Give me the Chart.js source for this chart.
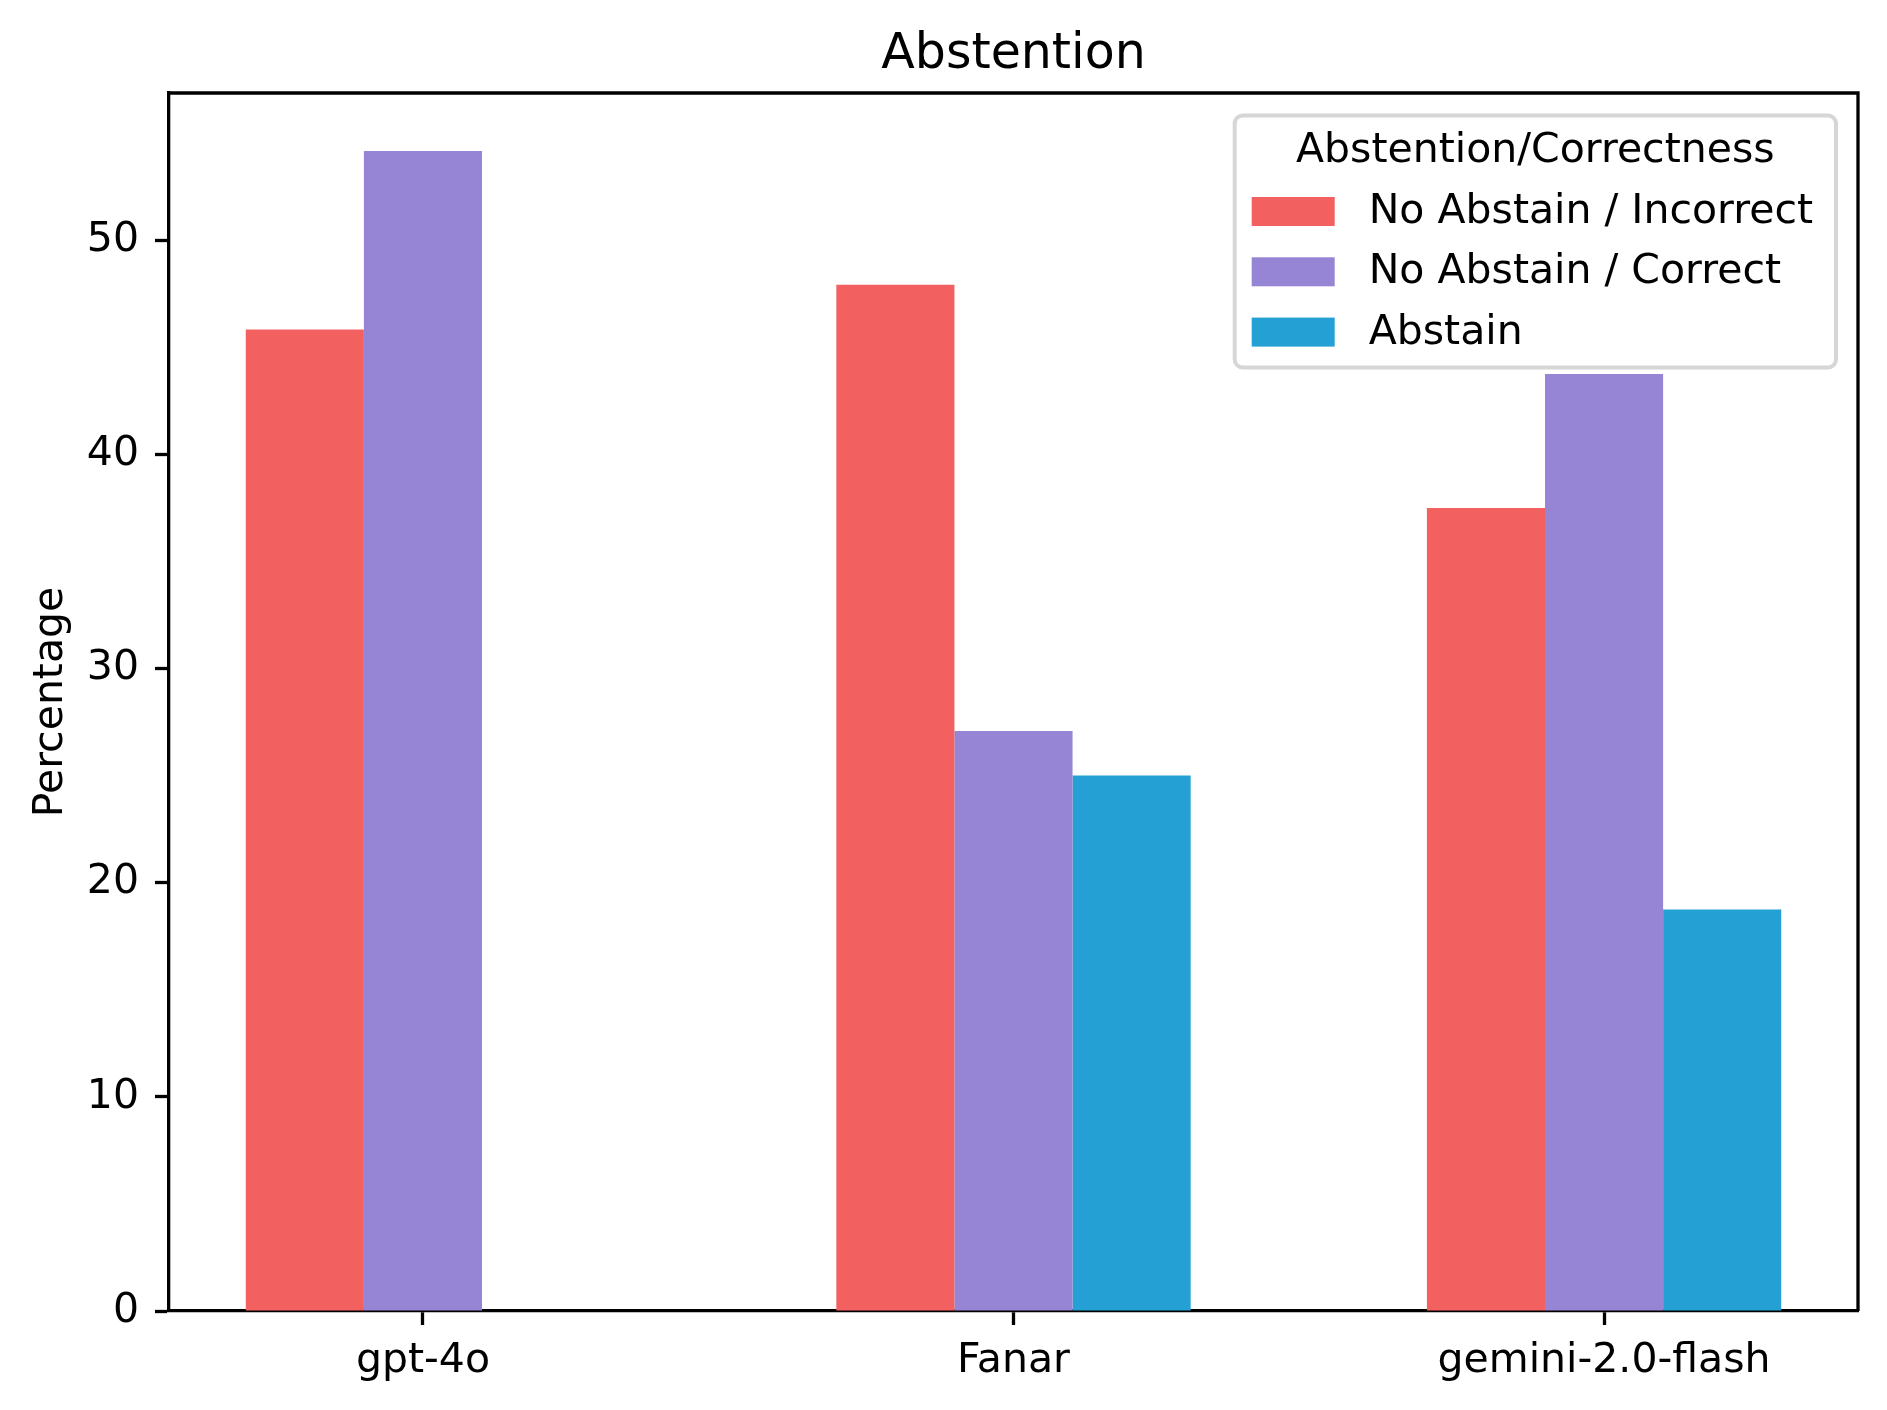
<!DOCTYPE html>
<html>
<head>
<meta charset="utf-8">
<script src="https://cdn.jsdelivr.net/npm/chart.js@4.4.1/dist/chart.umd.min.js"></script>
<style>
    html, body { margin: 0; padding: 0; background: #ffffff; }
    #wrap { width: 1887px; height: 1410px; }
</style>
</head>
<body>
<div id="wrap"><canvas id="abstentionChart"></canvas></div>
<script>
const models = ["gpt-4o", "Fanar", "gemini-2.0-flash"];
const noAbstainIncorrect = [45.83, 47.92, 37.5];
const noAbstainCorrect = [54.17, 27.08, 43.75];
const abstain = [0, 25.0, 18.75];
const yTicks = [0, 10, 20, 30, 40, 50];
const seriesNames = ["No Abstain / Incorrect", "No Abstain / Correct", "Abstain"];
const seriesColors = ["#f26060", "#9684d4", "#24a0d5"];
const chartTitle = "Abstention";
const legendTitle = "Abstention/Correctness";

const FONT = "'DejaVu Sans', sans-serif";
const FS = 41;

Chart.defaults.color = "#000";
Chart.defaults.font.family = FONT;

function toPoints(values) {
    return values.map((v, i) => ({x: i, y: v}));
}

// title over the axes, top/right spines, legend box in the upper right corner
const frameAndLegend = {
    id: "frameAndLegend",
    afterDraw(chart) {
        const ctx = chart.ctx;
        const a = chart.chartArea;
        ctx.save();
        ctx.strokeStyle = "#000";
        ctx.lineWidth = 3.3;
        ctx.beginPath();
        ctx.moveTo(a.left, a.top);
        ctx.lineTo(a.right, a.top);
        ctx.lineTo(a.right, a.bottom);
        ctx.stroke();

        ctx.fillStyle = "#000";
        ctx.font = "49px " + FONT;
        ctx.textAlign = "center";
        ctx.textBaseline = "middle";
        ctx.fillText(chartTitle, (a.left + a.right) / 2, a.top - 37.5);

        ctx.font = FS + "px " + FONT;
        let maxW = 0;
        chart.data.datasets.forEach(ds => {
            maxW = Math.max(maxW, ctx.measureText(ds.label).width);
        });
        const textOff = 134;
        const boxW = textOff + maxW + 23;
        const boxH = 252;
        const x0 = a.right - 22 - boxW;
        const y0 = a.top + 22.5;

        ctx.beginPath();
        ctx.roundRect(x0, y0, boxW, boxH, 8);
        ctx.fillStyle = "rgba(255,255,255,0.8)";
        ctx.fill();
        ctx.strokeStyle = "#d6d6d6";
        ctx.lineWidth = 4;
        ctx.stroke();

        ctx.fillStyle = "#000";
        ctx.textAlign = "center";
        ctx.fillText(legendTitle, x0 + boxW / 2, y0 + 36);

        ctx.textAlign = "left";
        chart.data.datasets.forEach((ds, i) => {
            const cy = y0 + 96 + i * 60.3;
            ctx.fillStyle = ds.backgroundColor;
            ctx.fillRect(x0 + 17, cy - 14.5, 83, 29);
            ctx.fillStyle = "#000";
            ctx.fillText(ds.label, x0 + textOff, cy + 1);
        });
        ctx.restore();
    }
};

new Chart(document.getElementById("abstentionChart"), {
    type: "bar",
    data: {
        datasets: [
            {label: seriesNames[0], data: toPoints(noAbstainIncorrect), backgroundColor: seriesColors[0]},
            {label: seriesNames[1], data: toPoints(noAbstainCorrect), backgroundColor: seriesColors[1]},
            {label: seriesNames[2], data: toPoints(abstain), backgroundColor: seriesColors[2]}
        ]
    },
    options: {
        responsive: true,
        maintainAspectRatio: false,
        devicePixelRatio: 1,
        animation: false,
        layout: {padding: {left: 0, right: 29, top: 93, bottom: 0}},
        datasets: {
            bar: {categoryPercentage: 0.6, barPercentage: 1.0, borderWidth: 0}
        },
        plugins: {
            legend: {display: false},
            tooltip: {enabled: false},
            title: {display: false}
        },
        scales: {
            x: {
                type: "linear",
                min: -0.43,
                max: 2.43,
                offset: false,
                z: 1,
                afterBuildTicks: scale => {
                    scale.ticks = models.map((m, i) => ({value: i}));
                },
                afterFit: scale => { scale.height = 99; },
                ticks: {
                    autoSkip: false,
                    maxRotation: 0,
                    padding: 12,
                    color: "#000",
                    font: {size: FS, family: FONT},
                    callback: value => models[value]
                },
                grid: {
                    display: true,
                    offset: false,
                    drawOnChartArea: false,
                    drawTicks: true,
                    tickLength: 14,
                    tickWidth: 3.3,
                    tickColor: "#000"
                },
                border: {display: true, color: "#000", width: 3.3}
            },
            y: {
                type: "linear",
                min: 0,
                max: 56.875,
                z: 1,
                afterBuildTicks: scale => {
                    scale.ticks = yTicks.map(v => ({value: v}));
                },
                afterFit: scale => { scale.width = 169; },
                ticks: {
                    padding: 16,
                    color: "#000",
                    font: {size: FS, family: FONT},
                    callback: value => String(value)
                },
                grid: {
                    display: true,
                    drawOnChartArea: false,
                    drawTicks: true,
                    tickLength: 14,
                    tickWidth: 3.3,
                    tickColor: "#000"
                },
                border: {display: true, color: "#000", width: 3.3},
                title: {
                    display: true,
                    text: "Percentage",
                    color: "#000",
                    font: {size: FS, family: FONT},
                    padding: {top: 27, bottom: 0}
                }
            }
        }
    },
    plugins: [frameAndLegend]
});
</script>
</body>
</html>
